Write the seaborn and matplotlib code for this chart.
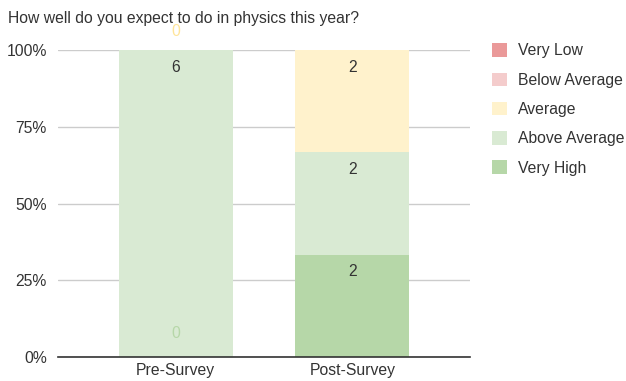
import matplotlib
matplotlib.use("Agg")
import matplotlib.pyplot as plt
from matplotlib.patches import Patch
from matplotlib.ticker import PercentFormatter
import numpy as np
import pandas as pd
import seaborn as sns

# Survey responses
surveys = ["Pre-Survey", "Post-Survey"]
levels = ["Very Low", "Below Average", "Average", "Above Average", "Very High"]
very_low = [0, 0]
below_average = [0, 0]
average = [0, 2]
above_average = [6, 2]
very_high = [0, 2]

colors = {
    "Very Low": "#ea9999",
    "Below Average": "#f4cccc",
    "Average": "#fff2cc",
    "Above Average": "#d9ead3",
    "Very High": "#b6d7a8",
}
zero_label_colors = {"Average": "#ffe599", "Very High": "#b6d7a8"}

counts = pd.DataFrame(
    {
        "Very Low": very_low,
        "Below Average": below_average,
        "Average": average,
        "Above Average": above_average,
        "Very High": very_high,
    },
    index=surveys,
)
totals = counts.sum(axis=1)
pct = counts.div(totals, axis=0) * 100

# stack from the bottom: Very High, Above Average, Average, Below Average, Very Low
stack_order = levels[::-1]
cum = pct[stack_order].cumsum(axis=1)
lower = cum - pct[stack_order]

sns.set_theme(style="white")
plt.rcParams["font.family"] = ["Liberation Sans", "DejaVu Sans"]
FS = 11.3
TEXT = "#333333"

fig = plt.figure(figsize=(6.26, 3.81), dpi=100)
ax = fig.add_axes([58 / 626, 1 - 357 / 381, (470 - 58) / 626, (357 - 50) / 381])

# draw cumulative heights, tallest first, so lower layers paint over upper ones
for level in stack_order[::-1]:
    df = pd.DataFrame({"survey": surveys, "value": cum[level].values})
    sns.barplot(
        data=df, x="survey", y="value", order=surveys, color=colors[level],
        saturation=1, width=0.644, linewidth=0, ax=ax, zorder=2,
    )

# value labels near the top of each segment
for i, s in enumerate(surveys):
    for level in stack_order:
        n = counts.loc[s, level]
        top = cum.loc[s, level]
        if n > 0:
            ax.annotate(str(n), (i, top), xytext=(0, -17), textcoords="offset pixels",
                        ha="center", va="center", fontsize=FS, color=TEXT, zorder=5)
        elif level in zero_label_colors and s == "Pre-Survey":
            if level == "Very High":
                anchor, off = lower.loc[s, level], 24
            else:
                anchor, off = top, 19
            ax.annotate("0", (i, anchor), xytext=(0, off), textcoords="offset pixels",
                        ha="center", va="center", fontsize=FS,
                        color=zero_label_colors[level], zorder=5, annotation_clip=False)

ax.set_ylim(0, 100)
ax.set_xlim(-0.667, 1.667)
ax.set_yticks([0, 25, 50, 75, 100])
ax.yaxis.set_major_formatter(PercentFormatter(decimals=0))
ax.grid(axis="y", color="#cccccc", linewidth=1, zorder=0)
ax.set_axisbelow(True)
for sp in ["top", "right", "left"]:
    ax.spines[sp].set_visible(False)
ax.spines["bottom"].set_color("#333333")
ax.spines["bottom"].set_linewidth(1.2)
ax.spines["bottom"].set_zorder(4)
ax.set_xlabel("")
ax.set_ylabel("")
ax.tick_params(axis="both", length=0, labelsize=FS, colors=TEXT)
ax.tick_params(axis="y", pad=8)
ax.tick_params(axis="x", pad=4)

fig.text(8 / 626, 1 - 19 / 381, "How well do you expect to do in physics this year?",
         fontsize=FS, color=TEXT, va="center", ha="left")

handles = [Patch(facecolor=colors[l], edgecolor="none") for l in levels]
fig.legend(handles, levels, loc="upper left", bbox_to_anchor=(486 / 626, 1 - 37 / 381),
           frameon=False, fontsize=FS, handlelength=0.95, handleheight=0.95,
           labelspacing=0.9, handletextpad=0.7, labelcolor=TEXT, borderaxespad=0)

fig.savefig("out.png", dpi=100)
